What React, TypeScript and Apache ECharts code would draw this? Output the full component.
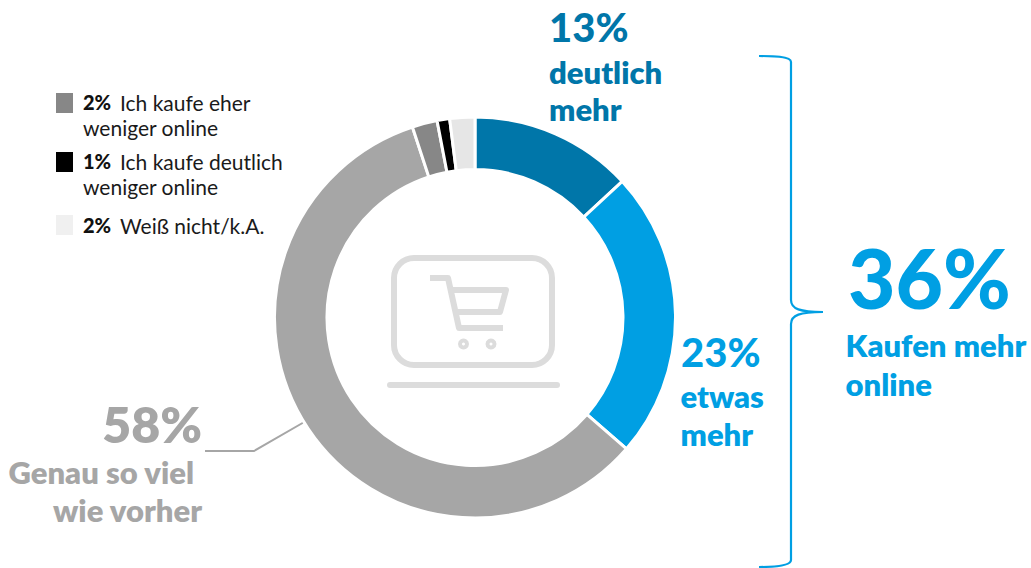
import React, { useEffect, useRef } from "react";
import * as echarts from "echarts";

const sliceNames = ["deutlich mehr", "etwas mehr", "Genau so viel wie vorher", "Ich kaufe eher weniger online", "Ich kaufe deutlich weniger online", "Weiß nicht/k.A."];
const sliceValues = [13, 23, 58, 2, 1, 2];
const sliceColors = ["#0076A9", "#009FE3", "#A6A6A6", "#878787", "#000000", "#E6E6E6"];

const DARK = "#0076A9";
const BLUE = "#009FE3";
const GREY = "#A6A6A6";
const FONT = "Lato";
const ICON = "#DCDCDC";

const bracketD = "M759 56 C772 56 791 56 791 62 L791 300 C791 309 800 312 823 312 C800 312 791 315 791 324 L791 560 C791 566 772 567 759 567";
echarts.graphic.registerShape("bracket", (echarts.graphic as any).extendPath(bracketD, {}));

function label(text: string, x: number, y: number, size: number, color: string, align = "left", weight: any = 800) {
  return { type: "text", x, y, silent: true, style: { text, fill: color, font: `${weight} ${size}px ${FONT}`, align, verticalAlign: "middle" } };
}
const LEGEND_FONT = `400 21px ${FONT}`;
function legendLine(pct: string, text: string, y: number) {
  return [
    { type: "text", x: 83, y, silent: true, style: { text: pct, fill: "#111", font: `900 20px ${FONT}`, verticalAlign: "middle" } },
    { type: "text", x: 120, y, silent: true, style: { text, fill: "#1a1a1a", font: LEGEND_FONT, verticalAlign: "middle" } },
  ];
}
function legendCont(text: string, y: number) {
  return { type: "text", x: 83, y, silent: true, style: { text, fill: "#1a1a1a", font: LEGEND_FONT, verticalAlign: "middle" } };
}
function swatch(y: number, fill: string) {
  return { type: "rect", shape: { x: 56, y, width: 17, height: 20 }, style: { fill } };
}
const stroke = { stroke: ICON, lineWidth: 6, fill: "none" };

export default function App() {
  const ref = useRef<HTMLDivElement>(null);
  useEffect(() => {
    document.body.style.margin = "0";
    const chart = echarts.init(ref.current!, null, { renderer: "svg" });
    chart.setOption({
      animation: false,
      backgroundColor: "#fff",
      series: [{
        type: "pie",
        center: [475, 317.5],
        radius: [148, 200.5],
        startAngle: 90,
        clockwise: true,
        silent: true,
        label: { show: false },
        labelLine: { show: false },
        itemStyle: { borderColor: "#fff", borderWidth: 3 },
        data: sliceValues.map((value, i) => ({ value, name: sliceNames[i], itemStyle: { color: sliceColors[i] } })),
      }],
      graphic: { elements: [
        label("13%", 549, 27, 40, DARK, "left", 900),
        label("deutlich", 549, 71.5, 31, DARK),
        label("mehr", 549, 109, 31, DARK),
        label("23%", 681, 352, 40, BLUE, "left", 900),
        label("etwas", 680.5, 395.5, 31, BLUE),
        label("mehr", 680.5, 434, 31, BLUE),
        label("36%", 848, 277, 82, BLUE, "left", 900),
        label("Kaufen mehr", 845.5, 345, 31, BLUE),
        label("online", 845.5, 384, 31, BLUE),
        label("58%", 202, 424, 50, GREY, "right"),
        label("Genau so viel", 194, 472, 31, GREY, "right"),
        label("wie vorher", 202, 510, 31, GREY, "right"),
        { type: "polyline", shape: { points: [[205, 451], [254, 451], [306, 421]] }, style: { stroke: GREY, lineWidth: 2, fill: "none" } },
        { type: "bracket", style: { stroke: BLUE, lineWidth: 2.2, fill: "none" } },
        swatch(93, "#878787"), swatch(152, "#000000"), swatch(215, "#F0F0F0"),
        ...legendLine("2%", "Ich kaufe eher", 102),
        legendCont("weniger online", 127),
        ...legendLine("1%", "Ich kaufe deutlich", 161),
        legendCont("weniger online", 186),
        ...legendLine("2%", "Weiß nicht/k.A.", 225),
        { type: "rect", shape: { x: 394, y: 258, width: 158, height: 107, r: 20 }, style: stroke },
        { type: "line", shape: { x1: 390, y1: 385, x2: 557, y2: 385 }, style: { stroke: ICON, lineWidth: 6, lineCap: "round" } },
        { type: "polyline", shape: { points: [[430, 278], [448, 278], [459, 328], [503, 328]] }, style: { stroke: ICON, lineWidth: 6, fill: "none", lineJoin: "round" } },
        { type: "polyline", shape: { points: [[451, 290], [506, 290], [500, 312], [456, 312]] }, style: { stroke: ICON, lineWidth: 6, fill: "none", lineJoin: "round" } },
        { type: "circle", shape: { cx: 463.5, cy: 344, r: 3.5 }, style: { fill: "#fff", stroke: ICON, lineWidth: 4 } },
        { type: "circle", shape: { cx: 491, cy: 344, r: 3.5 }, style: { fill: "#fff", stroke: ICON, lineWidth: 4 } },
      ] },
    });
    return () => chart.dispose();
  }, []);
  return <div ref={ref} style={{ width: 1031, height: 568 }} />;
}
